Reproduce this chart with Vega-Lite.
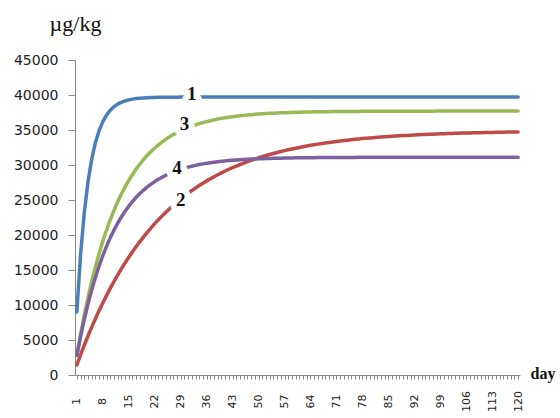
{
"$schema": "https://vega.github.io/schema/vega-lite/v6.json",
"width": 445, "height": 315,
"autosize": "none",
"padding": {"left": 75, "top": 60, "right": 40, "bottom": 43},
"background": "white",
"config": {"view": {"stroke": null}},
"datasets": {
"curves": [
{"d":1,"s1":9000,"s2":1430,"s3":2800,"s4":2800},
{"d":2,"s1":17190,"s2":2870,"s3":5810,"s4":5490},
{"d":3,"s1":23190,"s2":4250,"s3":8550,"s4":7930},
{"d":4,"s1":27590,"s2":5570,"s3":11060,"s4":10130},
{"d":5,"s1":30820,"s2":6830,"s3":13350,"s4":12130},
{"d":6,"s1":33190,"s2":8040,"s3":15450,"s4":13940},
{"d":7,"s1":34920,"s2":9200,"s3":17360,"s4":15570},
{"d":8,"s1":36200,"s2":10300,"s3":19110,"s4":17050},
{"d":9,"s1":37130,"s2":11360,"s3":20710,"s4":18380},
{"d":10,"s1":37820,"s2":12370,"s3":22170,"s4":19590},
{"d":11,"s1":38320,"s2":13340,"s3":23510,"s4":20690},
{"d":12,"s1":38690,"s2":14270,"s3":24730,"s4":21680},
{"d":13,"s1":38960,"s2":15160,"s3":25850,"s4":22580},
{"d":14,"s1":39150,"s2":16010,"s3":26870,"s4":23390},
{"d":15,"s1":39300,"s2":16820,"s3":27800,"s4":24120},
{"d":16,"s1":39410,"s2":17600,"s3":28650,"s4":24790},
{"d":17,"s1":39490,"s2":18350,"s3":29430,"s4":25390},
{"d":18,"s1":39540,"s2":19060,"s3":30140,"s4":25930},
{"d":19,"s1":39580,"s2":19740,"s3":30790,"s4":26420},
{"d":20,"s1":39620,"s2":20390,"s3":31390,"s4":26870},
{"d":21,"s1":39640,"s2":21020,"s3":31930,"s4":27270},
{"d":22,"s1":39650,"s2":21620,"s3":32430,"s4":27630},
{"d":23,"s1":39670,"s2":22190,"s3":32880,"s4":27960},
{"d":24,"s1":39680,"s2":22730,"s3":33300,"s4":28260},
{"d":25,"s1":39680,"s2":23260,"s3":33680,"s4":28530},
{"d":26,"s1":39690,"s2":23760,"s3":34020,"s4":28780},
{"d":27,"s1":39690,"s2":24240,"s3":34340,"s4":29000},
{"d":28,"s1":39690,"s2":24700,"s3":34630,"s4":29200},
{"d":29,"s1":39700,"s2":25140,"s3":34890,"s4":29380},
{"d":30,"s1":39700,"s2":25560,"s3":35140,"s4":29540},
{"d":31,"s1":39700,"s2":25960,"s3":35360,"s4":29690},
{"d":32,"s1":39700,"s2":26340,"s3":35560,"s4":29830},
{"d":33,"s1":39700,"s2":26710,"s3":35740,"s4":29950},
{"d":34,"s1":39700,"s2":27070,"s3":35910,"s4":30060},
{"d":35,"s1":39700,"s2":27400,"s3":36060,"s4":30160},
{"d":36,"s1":39700,"s2":27730,"s3":36200,"s4":30250},
{"d":37,"s1":39700,"s2":28030,"s3":36330,"s4":30330},
{"d":38,"s1":39700,"s2":28330,"s3":36450,"s4":30400},
{"d":39,"s1":39700,"s2":28610,"s3":36560,"s4":30470},
{"d":40,"s1":39700,"s2":28880,"s3":36660,"s4":30530},
{"d":41,"s1":39700,"s2":29140,"s3":36750,"s4":30580},
{"d":42,"s1":39700,"s2":29390,"s3":36830,"s4":30630},
{"d":43,"s1":39700,"s2":29630,"s3":36900,"s4":30680},
{"d":44,"s1":39700,"s2":29850,"s3":36970,"s4":30720},
{"d":45,"s1":39700,"s2":30070,"s3":37030,"s4":30750},
{"d":46,"s1":39700,"s2":30280,"s3":37090,"s4":30790},
{"d":47,"s1":39700,"s2":30480,"s3":37150,"s4":30820},
{"d":48,"s1":39700,"s2":30670,"s3":37190,"s4":30840},
{"d":49,"s1":39700,"s2":30850,"s3":37240,"s4":30870},
{"d":50,"s1":39700,"s2":31030,"s3":37270,"s4":30890},
{"d":51,"s1":39700,"s2":31190,"s3":37310,"s4":30910},
{"d":52,"s1":39700,"s2":31350,"s3":37340,"s4":30930},
{"d":53,"s1":39700,"s2":31500,"s3":37380,"s4":30940},
{"d":54,"s1":39700,"s2":31650,"s3":37400,"s4":30960},
{"d":55,"s1":39700,"s2":31790,"s3":37430,"s4":30970},
{"d":56,"s1":39700,"s2":31920,"s3":37450,"s4":30980},
{"d":57,"s1":39700,"s2":32050,"s3":37470,"s4":31000},
{"d":58,"s1":39700,"s2":32180,"s3":37490,"s4":31010},
{"d":59,"s1":39700,"s2":32290,"s3":37510,"s4":31010},
{"d":60,"s1":39700,"s2":32400,"s3":37530,"s4":31020},
{"d":61,"s1":39700,"s2":32510,"s3":37540,"s4":31030},
{"d":62,"s1":39700,"s2":32610,"s3":37560,"s4":31040},
{"d":63,"s1":39700,"s2":32710,"s3":37570,"s4":31040},
{"d":64,"s1":39700,"s2":32810,"s3":37580,"s4":31050},
{"d":65,"s1":39700,"s2":32900,"s3":37590,"s4":31050},
{"d":66,"s1":39700,"s2":32980,"s3":37600,"s4":31060},
{"d":67,"s1":39700,"s2":33070,"s3":37610,"s4":31060},
{"d":68,"s1":39700,"s2":33150,"s3":37620,"s4":31070},
{"d":69,"s1":39700,"s2":33220,"s3":37620,"s4":31070},
{"d":70,"s1":39700,"s2":33290,"s3":37630,"s4":31070},
{"d":71,"s1":39700,"s2":33360,"s3":37640,"s4":31070},
{"d":72,"s1":39700,"s2":33430,"s3":37640,"s4":31080},
{"d":73,"s1":39700,"s2":33490,"s3":37650,"s4":31080},
{"d":74,"s1":39700,"s2":33550,"s3":37650,"s4":31080},
{"d":75,"s1":39700,"s2":33610,"s3":37660,"s4":31080},
{"d":76,"s1":39700,"s2":33670,"s3":37660,"s4":31080},
{"d":77,"s1":39700,"s2":33720,"s3":37660,"s4":31090},
{"d":78,"s1":39700,"s2":33770,"s3":37670,"s4":31090},
{"d":79,"s1":39700,"s2":33820,"s3":37670,"s4":31090},
{"d":80,"s1":39700,"s2":33870,"s3":37670,"s4":31090},
{"d":81,"s1":39700,"s2":33910,"s3":37670,"s4":31090},
{"d":82,"s1":39700,"s2":33950,"s3":37680,"s4":31090},
{"d":83,"s1":39700,"s2":33990,"s3":37680,"s4":31090},
{"d":84,"s1":39700,"s2":34030,"s3":37680,"s4":31090},
{"d":85,"s1":39700,"s2":34070,"s3":37680,"s4":31090},
{"d":86,"s1":39700,"s2":34110,"s3":37680,"s4":31090},
{"d":87,"s1":39700,"s2":34140,"s3":37690,"s4":31100},
{"d":88,"s1":39700,"s2":34170,"s3":37690,"s4":31100},
{"d":89,"s1":39700,"s2":34200,"s3":37690,"s4":31100},
{"d":90,"s1":39700,"s2":34230,"s3":37690,"s4":31100},
{"d":91,"s1":39700,"s2":34260,"s3":37690,"s4":31100},
{"d":92,"s1":39700,"s2":34290,"s3":37690,"s4":31100},
{"d":93,"s1":39700,"s2":34320,"s3":37690,"s4":31100},
{"d":94,"s1":39700,"s2":34340,"s3":37690,"s4":31100},
{"d":95,"s1":39700,"s2":34370,"s3":37690,"s4":31100},
{"d":96,"s1":39700,"s2":34390,"s3":37690,"s4":31100},
{"d":97,"s1":39700,"s2":34410,"s3":37690,"s4":31100},
{"d":98,"s1":39700,"s2":34430,"s3":37700,"s4":31100},
{"d":99,"s1":39700,"s2":34450,"s3":37700,"s4":31100},
{"d":100,"s1":39700,"s2":34470,"s3":37700,"s4":31100},
{"d":101,"s1":39700,"s2":34490,"s3":37700,"s4":31100},
{"d":102,"s1":39700,"s2":34510,"s3":37700,"s4":31100},
{"d":103,"s1":39700,"s2":34520,"s3":37700,"s4":31100},
{"d":104,"s1":39700,"s2":34540,"s3":37700,"s4":31100},
{"d":105,"s1":39700,"s2":34560,"s3":37700,"s4":31100},
{"d":106,"s1":39700,"s2":34570,"s3":37700,"s4":31100},
{"d":107,"s1":39700,"s2":34580,"s3":37700,"s4":31100},
{"d":108,"s1":39700,"s2":34600,"s3":37700,"s4":31100},
{"d":109,"s1":39700,"s2":34610,"s3":37700,"s4":31100},
{"d":110,"s1":39700,"s2":34620,"s3":37700,"s4":31100},
{"d":111,"s1":39700,"s2":34640,"s3":37700,"s4":31100},
{"d":112,"s1":39700,"s2":34650,"s3":37700,"s4":31100},
{"d":113,"s1":39700,"s2":34660,"s3":37700,"s4":31100},
{"d":114,"s1":39700,"s2":34670,"s3":37700,"s4":31100},
{"d":115,"s1":39700,"s2":34680,"s3":37700,"s4":31100},
{"d":116,"s1":39700,"s2":34690,"s3":37700,"s4":31100},
{"d":117,"s1":39700,"s2":34700,"s3":37700,"s4":31100},
{"d":118,"s1":39700,"s2":34710,"s3":37700,"s4":31100},
{"d":119,"s1":39700,"s2":34710,"s3":37700,"s4":31100},
{"d":120,"s1":39700,"s2":34720,"s3":37700,"s4":31100}
],
"labels": [
{"d":32,"v":40100,"t":"1"},
{"d":29,"v":25000,"t":"2"},
{"d":30,"v":35900,"t":"3"},
{"d":28,"v":29570,"t":"4"}
]
},
"encoding": {
"x": {"field": "d", "type": "ordinal", "scale": {"type": "point", "padding": 0.5},
"axis": {"title": "day", "titleX": 455, "titleY": 3, "titleAlign": "left", "titleBaseline": "alphabetic", "titleFont": "Liberation Serif", "titleFontSize": 16, "titleFontWeight": "bold", "titleColor": "#111",
"labelExpr": "(datum.value - 1) % 7 === 0 ? datum.label : ''", "labelAngle": -90, "labelAlign": "center", "labelBaseline": "middle", "labelPadding": 22, "labelFont": "DejaVu Sans", "labelFontSize": 11, "labelColor": "#222", "labelOverlap": false, "labelBound": false,
"tickSize": 4, "tickColor": "#868686", "domainColor": "#868686", "grid": false}},
"y": {"field": "v", "type": "quantitative", "scale": {"domain": [0, 45000], "nice": false},
"axis": {"values": [0,5000,10000,15000,20000,25000,30000,35000,40000,45000], "format": "d", "grid": false, "tickSize": 7, "tickColor": "#868686", "domainColor": "#868686", "labelFont": "DejaVu Sans", "labelFontSize": 14, "labelColor": "#222", "labelPadding": 10, "labelOverlap": false, "labelBound": false, "labelFlush": false,
"title": "µg/kg", "titleAngle": 0, "titleX": 0, "titleY": -30, "titleAlign": "center", "titleBaseline": "alphabetic", "titleFont": "Liberation Serif", "titleFontSize": 22, "titleFontWeight": "normal", "titleColor": "#111"}}
},
"layer": [
{
"data": {"name": "curves"},
"transform": [{"fold": ["s1","s2","s3","s4"], "as": ["series","v"]}],
"mark": {"type": "line", "strokeWidth": 3.5, "strokeJoin": "round", "strokeCap": "round"},
"encoding": {
"color": {"field": "series", "type": "nominal", "scale": {"domain": ["s1","s2","s3","s4"], "range": ["#4a7ebb","#be4b48","#98b954","#7d60a0"]}, "legend": null}
}
},
{
"data": {"name": "labels"},
"mark": {"type": "text", "font": "Liberation Serif", "fontWeight": "bold", "fontSize": 19, "fill": "white", "stroke": "white", "strokeWidth": 12, "strokeJoin": "round", "baseline": "middle", "align": "center"},
"encoding": {"text": {"field": "t"}}
},
{
"data": {"name": "labels"},
"mark": {"type": "text", "font": "Liberation Serif", "fontWeight": "bold", "fontSize": 19, "fill": "#111", "baseline": "middle", "align": "center"},
"encoding": {"text": {"field": "t"}}
}
]
}
